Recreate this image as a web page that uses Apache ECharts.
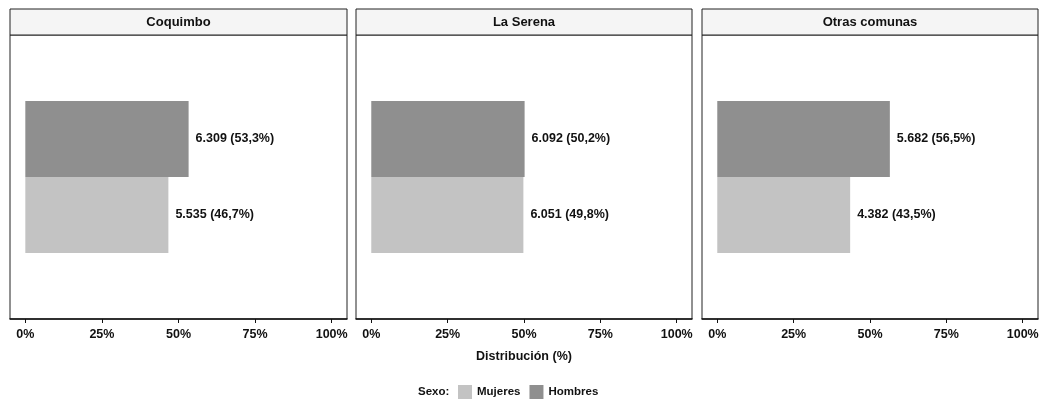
<!DOCTYPE html>
<html>
<head>
<meta charset="utf-8">
<script src="https://cdn.jsdelivr.net/npm/echarts@6/dist/echarts.min.js"></script>
<style>
html,body{margin:0;padding:0;background:#fff;}
#chart{width:1051px;height:406px;}
</style>
</head>
<body>
<div id="chart"></div>
<script>
// ---- data ----
const comunas = ['Coquimbo', 'La Serena', 'Otras comunas'];
const sexos = ['Mujeres', 'Hombres'];
const mujeresN = [5535, 6051, 4382];
const mujeresPct = [46.7, 49.8, 43.5];
const hombresN = [6309, 6092, 5682];
const hombresPct = [53.3, 50.2, 56.5];
const xTicks = [0, 25, 50, 75, 100];
const xTitle = 'Distribución (%)';
const legendTitle = 'Sexo:';

// ---- layout / style ----
const FONT = "'Liberation Sans', Arial, Helvetica, sans-serif";
const panelLeft = [10, 356, 702];
const panelWidth = [337, 336, 336];
const stripTop = 9, stripH = 26, plotTop = 35, plotH = 284;
const colors = { Mujeres: '#c3c3c3', Hombres: '#8f8f8f' };
const TXT = { fontFamily: FONT, fontWeight: 'bold', color: '#111' };

function fmtN(n) { return String(n).replace(/\B(?=(\d{3})+(?!\d))/g, '.'); }
function fmtPct(p) { return p.toFixed(1).replace('.', ',') + '%'; }

const grids = [], xAxes = [], yAxes = [], series = [], graphics = [];
comunas.forEach((c, i) => {
  grids.push({ left: panelLeft[i], width: panelWidth[i], top: plotTop, height: plotH,
    show: true, borderColor: '#222', borderWidth: 1, containLabel: false });
  xAxes.push({
    type: 'value', gridIndex: i, min: -5, max: 105,
    name: i === 1 ? xTitle : '', nameLocation: 'middle', nameGap: 31,
    nameTextStyle: Object.assign({ fontSize: 12.5 }, TXT),
    axisLine: { show: true, onZero: false, lineStyle: { color: '#111', width: 1.5 } },
    axisTick: { show: true, customValues: xTicks, length: 4, lineStyle: { color: '#111' } },
    axisLabel: Object.assign({ customValues: xTicks, formatter: v => v + '%', fontSize: 12.5,
      margin: 9, hideOverlap: false }, TXT),
    splitLine: { show: false }
  });
  yAxes.push({ type: 'category', gridIndex: i, data: [c], show: false });
  // first series is drawn on top in a horizontal band
  const defs = [
    { name: 'Hombres', n: hombresN[i], p: hombresPct[i] },
    { name: 'Mujeres', n: mujeresN[i], p: mujeresPct[i] }
  ];
  defs.forEach(d => {
    series.push({
      type: 'bar', name: d.name, xAxisIndex: i, yAxisIndex: i,
      barWidth: 76, barGap: '0%',
      itemStyle: { color: colors[d.name] },
      data: [d.p],
      label: Object.assign({ show: true, position: 'right', distance: 7, fontSize: 12.5,
        formatter: () => fmtN(d.n) + ' (' + fmtPct(d.p) + ')' }, TXT),
      emphasis: { disabled: true }, animation: false
    });
  });
  graphics.push({
    type: 'rect', shape: { x: panelLeft[i], y: stripTop, width: panelWidth[i], height: stripH },
    style: { fill: '#f5f5f5', stroke: '#222', lineWidth: 1 }, z: 10
  });
  graphics.push({
    type: 'text', x: panelLeft[i] + panelWidth[i] / 2, y: stripTop + stripH / 2,
    style: { text: c, fontFamily: FONT, fontWeight: 'bold', fontSize: 13, fill: '#111',
      align: 'center', verticalAlign: 'middle' }, z: 11
  });
});
graphics.push({
  type: 'text', x: 418, y: 392,
  style: { text: legendTitle, fontFamily: FONT, fontWeight: 'bold', fontSize: 11.5, fill: '#111',
    align: 'left', verticalAlign: 'middle' }
});

const chart = echarts.init(document.getElementById('chart'), null, { renderer: 'canvas' });
chart.setOption({
  backgroundColor: '#fff',
  animation: false,
  grid: grids, xAxis: xAxes, yAxis: yAxes, series: series,
  graphic: graphics,
  legend: {
    data: sexos, left: 453, top: 380, icon: 'rect', itemWidth: 14, itemHeight: 14, itemGap: 9,
    textStyle: { fontFamily: FONT, fontWeight: 'bold', fontSize: 11.5, color: '#111' }, selectedMode: false
  }
});
</script>
</body>
</html>
